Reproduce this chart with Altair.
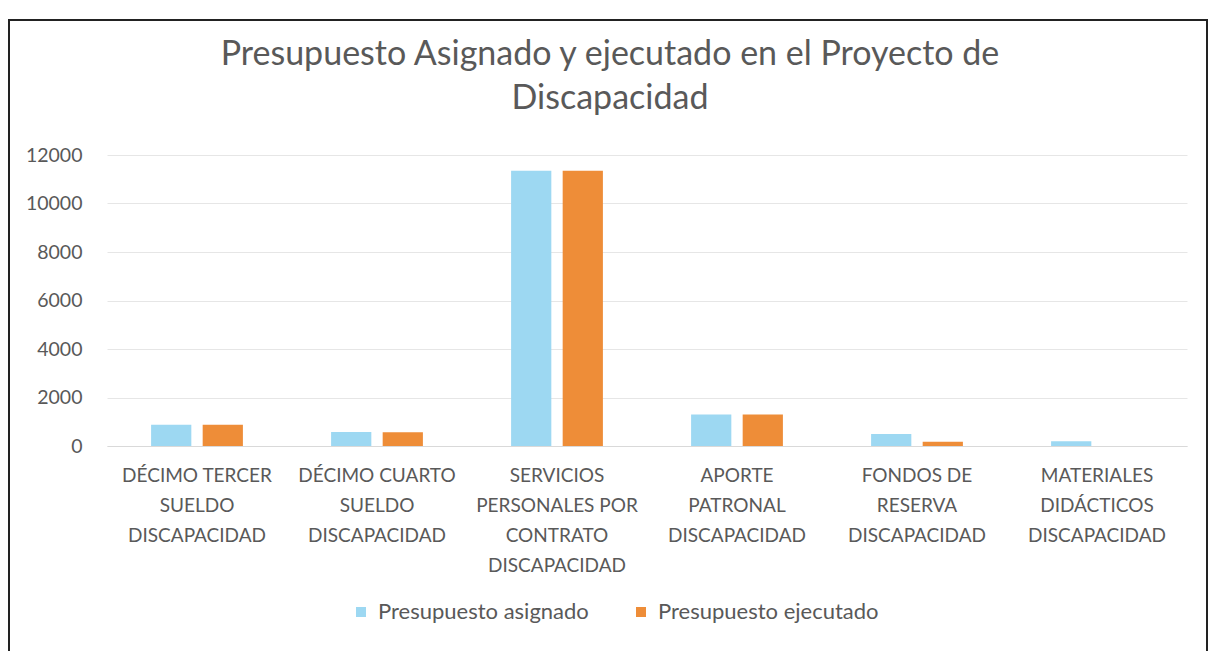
import altair as alt
import pandas as pd

categories = [
    "DÉCIMO TERCER SUELDO DISCAPACIDAD",
    "DÉCIMO CUARTO SUELDO DISCAPACIDAD",
    "SERVICIOS PERSONALES POR CONTRATO DISCAPACIDAD",
    "APORTE PATRONAL DISCAPACIDAD",
    "FONDOS DE RESERVA DISCAPACIDAD",
    "MATERIALES DIDÁCTICOS DISCAPACIDAD",
]
label_lines = [
    ["DÉCIMO TERCER", "SUELDO", "DISCAPACIDAD"],
    ["DÉCIMO CUARTO", "SUELDO", "DISCAPACIDAD"],
    ["SERVICIOS", "PERSONALES POR", "CONTRATO", "DISCAPACIDAD"],
    ["APORTE", "PATRONAL", "DISCAPACIDAD"],
    ["FONDOS DE", "RESERVA", "DISCAPACIDAD"],
    ["MATERIALES", "DIDÁCTICOS", "DISCAPACIDAD"],
]
series = ["Presupuesto asignado", "Presupuesto ejecutado"]
asignado = [880, 580, 11350, 1300, 500, 200]
ejecutado = [880, 570, 11350, 1300, 180, 0]
colors = ["#9DD8F2", "#EE8D38"]
y_ticks = [0, 2000, 4000, 6000, 8000, 10000, 12000]
title_lines = ["Presupuesto Asignado y ejecutado en el Proyecto de", "Discapacidad"]

rows = []
for c, a, e in zip(categories, asignado, ejecutado):
    rows.append({"categoria": c, "serie": series[0], "valor": a})
    rows.append({"categoria": c, "serie": series[1], "valor": e})
df = pd.DataFrame(rows)

# label expression built from label_lines
expr = "''"
for c, lines in reversed(list(zip(categories, label_lines))):
    arr = "[" + ",".join("'" + l + "'" for l in lines) + "]"
    expr = f"datum.label == '{c}' ? {arr} : ({expr})"

FONT = "Lato"
GRAY = "#595959"

bars = alt.Chart(df).mark_bar().encode(
    x=alt.X(
        "categoria:N",
        sort=categories,
        title=None,
        scale=alt.Scale(paddingInner=0.49, paddingOuter=0.245),
        axis=alt.Axis(
            labelExpr=expr,
            labelAngle=0,
            labelFont=FONT,
            labelFontSize=19,
            labelColor=GRAY,
            labelLineHeight=30,
            labelPadding=20,
            labelBaseline="top",
            ticks=False,
            domainColor="#d9d9d9",
            labelLimit=300,
        ),
    ),
    xOffset=alt.XOffset("serie:N", sort=series, scale=alt.Scale(paddingInner=0.22)),
    y=alt.Y(
        "valor:Q",
        title=None,
        scale=alt.Scale(domain=[0, 12000], nice=False),
        axis=alt.Axis(
            values=y_ticks,
            format="d",
            labelFont=FONT,
            labelFontSize=19.5,
            labelColor=GRAY,
            labelPadding=25,
            ticks=False,
            domain=False,
            gridColor="#e6e6e6",
        ),
    ),
    color=alt.Color(
        "serie:N",
        sort=series,
        scale=alt.Scale(domain=series, range=colors),
        legend=alt.Legend(
            title=None,
            orient="none",
            legendX=243,
            legendY=446,
            direction="horizontal",
            symbolType="square",
            symbolSize=100,
            symbolStrokeWidth=0,
            labelFont=FONT,
            labelFontSize=22,
            labelColor=GRAY,
            labelLimit=400,
            columnPadding=41,
            labelOffset=6,
        ),
    ),
)

frame = alt.Chart(pd.DataFrame({"k": [0]})).mark_rect(
    fill=None, stroke="#222222", strokeWidth=2, clip=False
).encode(
    x=alt.value(-98), x2=alt.value(1100), y=alt.value(-135), y2=alt.value(600)
)

title_layers = []
for i, line in enumerate(title_lines):
    title_layers.append(
        alt.Chart(pd.DataFrame({"line": [line]})).mark_text(
            font=FONT, fontSize=34, color=GRAY, align="center", baseline="middle"
        ).encode(
            text="line:N",
            x=alt.value(503),
            y=alt.value([-100, -56][i]),
        )
    )

chart = alt.layer(frame, bars, *title_layers).properties(
    width=1080,
    height=291,
    padding={"left": 99, "top": 147, "right": 22, "bottom": 205},
    autosize=alt.AutoSizeParams(type="none"),
).configure(background="white").configure_view(stroke=None)

chart.save("out.html", embed_options={"renderer": "svg", "actions": False})
